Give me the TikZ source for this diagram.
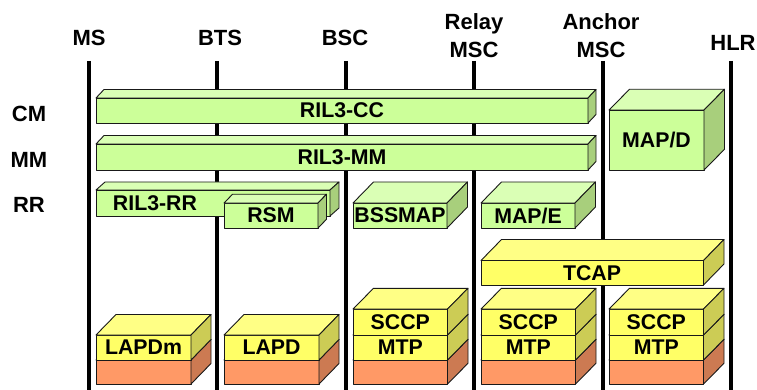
\documentclass[tikz,border=0pt]{standalone}
\usepackage{fontspec}
\setmainfont{Liberation Sans}
\definecolor{gfront}{HTML}{CCFF99}
\definecolor{gtop}{HTML}{DAFFB5}
\definecolor{gside}{HTML}{A8CF7C}
\definecolor{yfront}{HTML}{FFFF66}
\definecolor{ytop}{HTML}{FFFF85}
\definecolor{yside}{HTML}{CCCC55}
\definecolor{ofront}{HTML}{FF9966}
\definecolor{otop}{HTML}{FFB088}
\definecolor{oside}{HTML}{CC7A52}
% cuboid: x1, top y, x2, bottom y, depth x, depth y, colour prefix
\newcommand{\cuboid}[7]{%
  \filldraw[face,fill=#7front] (#1,#2) rectangle (#3,#4);
  \filldraw[face,fill=#7top] (#1,#2) -- (#1+#5,#2-#6) -- (#3+#5,#2-#6) -- (#3,#2) -- cycle;
  \filldraw[face,fill=#7side] (#3,#2) -- (#3+#5,#2-#6) -- (#3+#5,#4-#6) -- (#3,#4) -- cycle;
}
\begin{document}
\begin{tikzpicture}[x=1pt,y=-1pt,line join=round,
  face/.style={draw=black!90,line width=0.9pt},
  lbl/.style={font=\fontsize{21.3}{24}\selectfont\bfseries,inner sep=0pt},
  head/.style={font=\fontsize{22}{28}\selectfont\bfseries,inner sep=0pt,align=center},
  entity/.style={line width=4.5pt,draw=black}]
\useasboundingbox (0,0) rectangle (757,390);

% entity headings and their vertical lines
\node[head] (ms)    at (89,38)  {MS};
\node[head] (bts)   at (220,38) {BTS};
\node[head] (bsc)   at (345,38) {BSC};
\node[head] (relay) at (474,36) {Relay\\MSC};
\node[head] (anchor) at (601,36) {Anchor\\MSC};
\node[head] (hlr)   at (733,43) {HLR};
\coordinate (msT) at (89,61);   \coordinate (msB) at (89,390);
\coordinate (btsT) at (217,61); \coordinate (btsB) at (217,390);
\coordinate (bscT) at (346,61); \coordinate (bscB) at (346,390);
\coordinate (relT) at (474,61); \coordinate (relB) at (474,390);
\coordinate (ancT) at (603,61); \coordinate (ancB) at (603,390);
\coordinate (hlrT) at (731,61); \coordinate (hlrB) at (731,390);
\foreach \a/\b in {msT/msB,btsT/btsB,bscT/bscB,relT/relB,ancT/ancB,hlrT/hlrB}
  \draw[entity] (\a) -- (\b);

% layer names
\node[head] (cm) at (29,114) {CM};
\node[head] (mm) at (29,160) {MM};
\node[head] (rr) at (29,205) {RR};

% end-to-end layers
\cuboid{96}{98}{588}{123}{8}{8.5}{g}
\node[lbl] (ril3cc) at (342,110.5) {RIL3-CC};
\cuboid{96}{144}{588}{170}{8}{8.5}{g}
\node[lbl] (ril3mm) at (342,157) {RIL3-MM};
\cuboid{609}{110}{704}{170}{20.5}{20.7}{g}
\node[lbl] (mapd) at (656.5,140) {MAP/D};

% radio resource layer
\cuboid{96}{190}{330}{216}{9}{8}{g}
\node[lbl] (ril3rr) at (155,203) {RIL3-RR};
\cuboid{224}{203}{318}{228}{8.5}{8.7}{g}
\node[lbl] (rsm) at (271,215.5) {RSM};
\cuboid{353}{203}{447}{228}{20.5}{21}{g}
\node[lbl] (bssmap) at (400,215.5) {BSSMAP};
\cuboid{481}{203}{575}{228}{20.5}{21}{g}
\node[lbl] (mape) at (528,215.5) {MAP/E};

% transaction layer
\cuboid{481}{260.5}{703.5}{285}{20.5}{21}{y}
\node[lbl] (tcap) at (592,273) {TCAP};

% link layers
\cuboid{96}{360}{191}{384}{20}{20.5}{o}
\cuboid{96}{335}{191}{360}{20}{20.5}{y}
\node[lbl] (lapdm) at (143.5,347.5) {LAPDm};
\cuboid{224}{360}{319}{384}{20}{20.5}{o}
\cuboid{224}{335}{319}{360}{20}{20.5}{y}
\node[lbl] (lapd) at (271.5,347.5) {LAPD};

% SS7 stacks
\foreach \x/\n in {353/bsc,481/rel,609/hlr}{
  \cuboid{\x}{360}{\x+94.5}{384}{20.5}{20.7}{o}
  \cuboid{\x}{335}{\x+94.5}{360}{20.5}{20.7}{y}
  \cuboid{\x}{309}{\x+94.5}{335}{20.5}{20.7}{y}
  \node[lbl] (sccp\n) at (\x+47.25,322) {SCCP};
  \node[lbl] (mtp\n) at (\x+47.25,347.5) {MTP};
}
\end{tikzpicture}
\end{document}
